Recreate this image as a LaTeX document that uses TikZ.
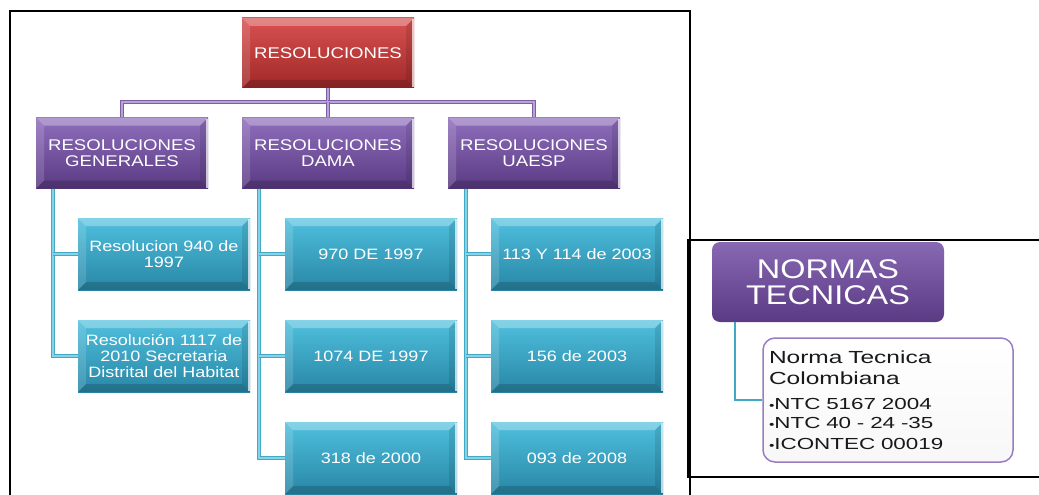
\documentclass[tikz,border=0pt]{standalone}
\usepackage{fontspec}
\setmainfont{Liberation Sans}
\newfontfamily\boxfont[FakeStretch=1.2]{Liberation Sans}
\newfontfamily\wbfont[FakeStretch=1.4]{Liberation Sans}
\usetikzlibrary{calc}
\definecolor{redT}{HTML}{D85250}
\definecolor{redB}{HTML}{A02828}
\definecolor{purT}{HTML}{8F6EBC}
\definecolor{purB}{HTML}{5A3A83}
\definecolor{cyaT}{HTML}{4FC0DE}
\definecolor{cyaB}{HTML}{2886A5}
\definecolor{purLine}{HTML}{7E5EA9}
\definecolor{purLineIn}{HTML}{B7A3D6}
\definecolor{cyaLine}{HTML}{3FA9C6}
\definecolor{cyaLineIn}{HTML}{86D2E8}
\definecolor{wbBorder}{HTML}{9A7CC2}
\tikzset{
  bevel/.style={path picture={
    \coordinate (bnw) at (path picture bounding box.north west);
    \coordinate (bne) at (path picture bounding box.north east);
    \coordinate (bsw) at (path picture bounding box.south west);
    \coordinate (bse) at (path picture bounding box.south east);
    \fill[white,opacity=.30] (bnw) -- (bne) -- ($(bne)+(-8,8)$) -- ($(bnw)+(8,8)$) -- cycle;
    \fill[white,opacity=.14] (bnw) -- (bsw) -- ($(bsw)+(8,-8)$) -- ($(bnw)+(8,8)$) -- cycle;
    \fill[black,opacity=.16] (bsw) -- (bse) -- ($(bse)+(-8,-8)$) -- ($(bsw)+(8,-8)$) -- cycle;
    \fill[black,opacity=.10] (bne) -- (bse) -- ($(bse)+(-8,-8)$) -- ($(bne)+(-8,8)$) -- cycle;
    \draw[white,opacity=.7,line width=1.6pt] ($(bne)+(-0.8,1)$) -- ($(bse)+(-0.8,-1)$);
  }},
  basebox/.style={bevel, inner sep=0pt, align=center, text=white,
    minimum width=172pt, draw=none},
  rootbox/.style={basebox, top color=redT, bottom color=redB,
    minimum height=70pt, font=\boxfont\fontsize{15.5}{16}\selectfont},
  lvtwo/.style={basebox, top color=purT, bottom color=purB,
    minimum height=71pt, font=\boxfont\fontsize{15.5}{15.5}\selectfont},
  lvthree/.style={basebox, top color=cyaT, bottom color=cyaB,
    minimum height=72pt, font=\boxfont\fontsize{15}{16}\selectfont},
  pconn/.style={draw=purLine, line width=1.4pt, double=purLineIn, double distance=1.6pt},
  cconn/.style={draw=cyaLine, line width=1.3pt, double=cyaLineIn, double distance=1.4pt},
  frame/.style={draw=black, line width=1.6pt},
  normbox/.style={rounded corners=8pt, top color=purT!95!black, bottom color=purB,
    minimum width=232pt, minimum height=80pt, inner sep=0pt, align=center, text=white,
    font=\boxfont\fontsize{27}{26}\selectfont},
  whitebox/.style={rounded corners=12pt, draw=wbBorder, line width=1.5pt,
    top color=white, bottom color=gray!6, minimum width=250pt, minimum height=124pt,
    text width=238pt, inner sep=0pt, align=left, text=black!90,
    font=\wbfont\fontsize{17.5}{21}\selectfont}
}
\newcommand{\bul}{{\fontsize{11}{11}\selectfont•}}
\begin{document}
\begin{tikzpicture}[x=1pt,y=-1pt]
\useasboundingbox (0,0) rectangle (1039,495);
% frames
\draw[frame] (10,495) -- (10,11) -- (690,11) -- (690,495);
\draw[frame, line width=2pt] (1039,240) -- (688,240) -- (688,477) -- (1039,477);

% top level
\node[rootbox] (root) at (328,53) {RESOLUCIONES};
\node[lvtwo] (g) at (122,153) {RESOLUCIONES\\GENERALES};
\node[lvtwo] (d) at (328,153) {RESOLUCIONES\\DAMA};
\node[lvtwo] (u) at (534,153) {RESOLUCIONES\\UAESP};

% third level
\node[lvthree] (g1) at (164,254) {Resolucion 940 de\\1997};
\node[lvthree] (g2) at (164,356) {Resolución 1117 de\\2010 Secretaria\\Distrital del Habitat};
\node[lvthree] (d1) at (371,254) {970 DE 1997};
\node[lvthree] (d2) at (371,356) {1074 DE 1997};
\node[lvthree] (d3) at (371,458) {318 de 2000};
\node[lvthree] (u1) at (577,254) {113 Y 114 de 2003};
\node[lvthree] (u2) at (577,356) {156 de 2003};
\node[lvthree] (u3) at (577,458) {093 de 2008};

% purple connectors
\coordinate (bus) at (328,102);
\draw[pconn] (root.south) -- (bus) -| (g.north);
\draw[pconn] (bus) -| (u.north);
\draw[pconn] (bus) -- (d.north);

% cyan connectors
\coordinate (gs) at ($(g.south west)+(17,0)$);
\coordinate (ds) at ($(d.south west)+(17,0)$);
\coordinate (us) at ($(u.south west)+(18,0)$);
\draw[cconn] (gs) |- (g2.west);
\draw[cconn] (gs |- g1.west) -- (g1.west);
\draw[cconn] (ds) |- (d3.west);
\draw[cconn] (ds |- d1.west) -- (d1.west);
\draw[cconn] (ds |- d2.west) -- (d2.west);
\draw[cconn] (us) |- (u3.west);
\draw[cconn] (us |- u1.west) -- (u1.west);
\draw[cconn] (us |- u2.west) -- (u2.west);

% normas tecnicas
\node[normbox] (nt) at (828,282) {NORMAS\\TECNICAS};
\node[whitebox] (wb) at (888,400) {Norma Tecnica\\Colombiana\\[6pt]
  {\fontsize{16}{19}\selectfont\bul NTC 5167 2004\\\bul NTC 40 - 24 -35\\\bul ICONTEC 00019}};
\coordinate (ns) at ($(nt.south west)+(23,0)$);
\draw[cyaLine, line width=2.2pt] (ns) |- (wb.west);
\end{tikzpicture}
\end{document}
